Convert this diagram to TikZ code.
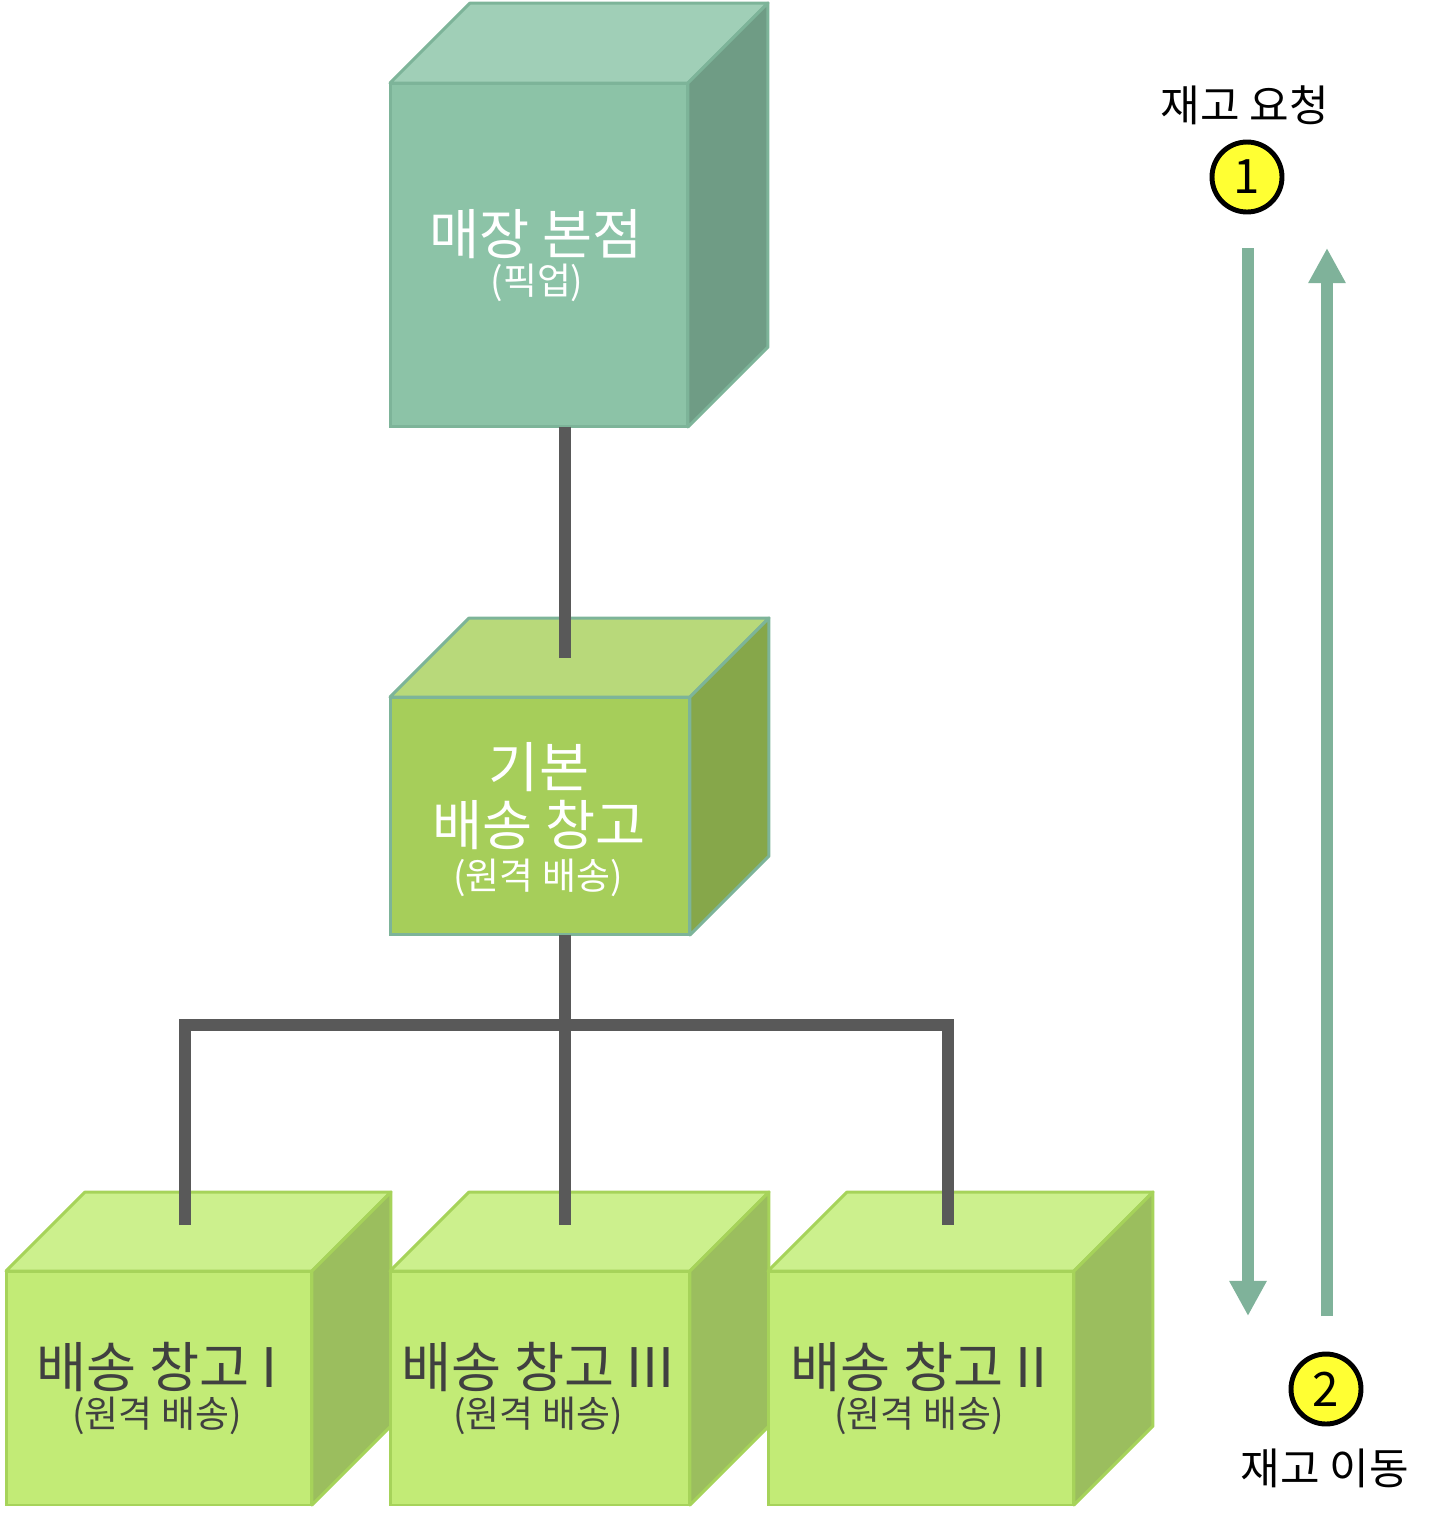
\documentclass[tikz,border=0pt]{standalone}
\usepackage{fontspec}
\setmainfont{Noto Sans CJK KR}
\usetikzlibrary{arrows.meta, calc}

\definecolor{storefront}{HTML}{8CC3A7}
\definecolor{storetop}{HTML}{A0CFB7}
\definecolor{storeside}{HTML}{6F9C85}
\definecolor{storeline}{HTML}{7DB499}
\definecolor{hubfront}{HTML}{A6CE5A}
\definecolor{hubtop}{HTML}{B8D97A}
\definecolor{hubside}{HTML}{86A74A}
\definecolor{whfront}{HTML}{C2EB76}
\definecolor{whtop}{HTML}{CCF08D}
\definecolor{whside}{HTML}{9BBE5E}
\definecolor{whline}{HTML}{A6D35A}
\definecolor{linkgrey}{HTML}{595959}
\definecolor{flowgreen}{HTML}{7FB29A}
\definecolor{labelgrey}{HTML}{404040}
\definecolor{markyellow}{HTML}{FFFF33}

% name, centre, width, height, front, top, side, border, depth
\newcommand{\whcube}[9]{%
  \node[draw=#8, fill=#5, line width=1.7pt, minimum width=#3, minimum height=#4,
        inner sep=0pt, outer sep=0pt] (#1) at #2 {};
  \filldraw[draw=#8, fill=#6, line width=1.7pt, line join=round]
    (#1.north west) -- ++(#9,-#9) -- ($(#1.north east)+(#9,-#9)$) -- (#1.north east) -- cycle;
  \filldraw[draw=#8, fill=#7, line width=1.7pt, line join=round]
    (#1.north east) -- ++(#9,-#9) -- ($(#1.south east)+(#9,-#9)$) -- (#1.south east) -- cycle;
}

\tikzset{
  link/.style={draw=linkgrey, line width=6.8pt},
  flow/.style={draw=flowgreen, line width=6.8pt, -{Triangle[width=20pt, length=20pt]}},
  big/.style={font=\fontsize{31}{36}\selectfont},
  small/.style={font=\fontsize{21}{25}\selectfont},
  stepmark/.style={circle, draw=black, fill=markyellow, line width=2.8pt, minimum size=1.4cm,
               inner sep=0pt, font=\fontsize{27}{30}\selectfont},
  caption/.style={font=\fontsize{24.5}{28}\selectfont}
}

\begin{document}
\begin{tikzpicture}[x=0.02cm, y=-0.02cm]
    \useasboundingbox (0,0) rectangle (1441,1516);

    % cubes
    \whcube{store}{(539,255)}{5.96cm}{6.88cm}{storefront}{storetop}{storeside}{storeline}{80}
    \whcube{hub}{(540,816)}{6cm}{4.76cm}{hubfront}{hubtop}{hubside}{storeline}{79}
    \whcube{whone}{(159,1388)}{6.12cm}{4.68cm}{whfront}{whtop}{whside}{whline}{79}
    \whcube{whthree}{(540,1388)}{6cm}{4.68cm}{whfront}{whtop}{whside}{whline}{79}
    \whcube{whtwo}{(921,1388)}{6.12cm}{4.68cm}{whfront}{whtop}{whside}{whline}{79}

    % texts
    \node[big, text=white] (storetxt) at (536,234) {매장 본점};
    \node[small, text=white] (storesub) at (537,283) {(픽업)};
    \node[big, text=white] (hubtxta) at (539,767) {기본};
    \node[big, text=white] (hubtxtb) at (539,825) {배송 창고};
    \node[small, text=white] (hubsub) at (538,878) {(원격 배송)};
    \node[big, text=labelgrey] (whonetxt) at (157,1367) {배송 창고 I};
    \node[small, text=labelgrey] (whonesub) at (157,1416) {(원격 배송)};
    \node[big, text=labelgrey] (whthreetxt) at (538,1367) {배송 창고 III};
    \node[small, text=labelgrey] (whthreesub) at (538,1416) {(원격 배송)};
    \node[big, text=labelgrey] (whtwotxt) at (919,1367) {배송 창고 II};
    \node[small, text=labelgrey] (whtwosub) at (919,1416) {(원격 배송)};

    % connectors
    \coordinate (hubtop) at (565,658);
    \coordinate (fork) at (565,1025);
    \coordinate (oneend) at (185,1225);
    \coordinate (threeend) at (565,1225);
    \coordinate (twoend) at (948,1225);
    \draw[link] (store.south -| hubtop) -- (hubtop);
    \draw[link] (hub.south -| fork) -- (threeend);
    \draw[link] (oneend) -- (oneend |- fork) -- (twoend |- fork) -- (twoend);

    % request / transfer
    \node[caption] (reqtxt) at (1245,105) {재고 요청};
    \node[stepmark] (reqmark) at (1247,177) {1};
    \node[stepmark] (movemark) at (1326,1389) {2};
    \node[caption] (movetxt) at (1325,1468) {재고 이동};
    \coordinate (downtop) at (1248,248);
    \coordinate (downend) at (1248,1316);
    \coordinate (upstart) at (1327,1316);
    \coordinate (upend) at (1327,248);
    \draw[flow] (downtop) -- (downend);
    \draw[flow] (upstart) -- (upend);
\end{tikzpicture}
\end{document}
